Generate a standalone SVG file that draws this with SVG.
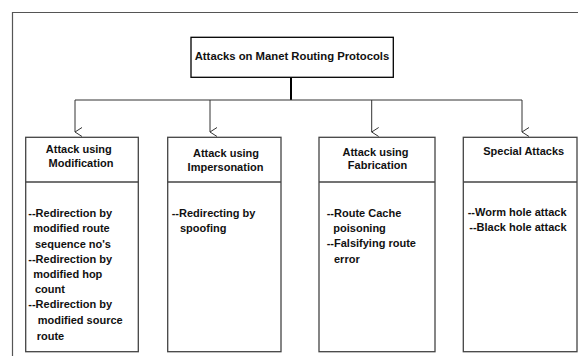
<svg xmlns="http://www.w3.org/2000/svg" width="578" height="356" viewBox="0 0 578 356">
<defs>
<style>
.frame{fill:none;stroke:#555;stroke-width:1.2}
.box{fill:#fff;stroke:#444;stroke-width:1.3}
.div{stroke:#444;stroke-width:1.3}
.conn{fill:none;stroke:#333;stroke-width:1}
.trunk{fill:none;stroke:#000;stroke-width:2}
.t{font-family:"Liberation Sans",Arial,sans-serif;font-weight:bold;font-size:11px;fill:#111}
.c{text-anchor:middle}
</style>
<marker id="arr" viewBox="0 0 10 10" refX="5" refY="9" markerWidth="10" markerHeight="10" markerUnits="userSpaceOnUse" orient="auto-start-reverse">
<path d="M0.5,2 L5,9 L9.5,2" fill="none" stroke="#333" stroke-width="1"/>
</marker>
</defs>
<rect width="578" height="356" fill="#fff"/>
<path class="frame" d="M12.5,356 V12.5 H578"/>

<g id="connectors">
<path class="trunk" d="M291,77.5 V100"/>
<path class="conn" d="M75,100 H522"/>
<path class="conn" d="M75,100 V132" marker-end="url(#arr)"/>
<path class="conn" d="M210,100 V132" marker-end="url(#arr)"/>
<path class="conn" d="M371.7,100 V132" marker-end="url(#arr)"/>
<path class="conn" d="M522,100 V132" marker-end="url(#arr)"/>
</g>

<g id="root">
<rect x="191" y="37.3" width="202.3" height="40" fill="#fff" stroke="#000" stroke-width="1.3"/>
<text class="t c" x="292" y="60" style="font-size:11.3px">Attacks on Manet Routing Protocols</text>
</g>

<g id="modification">
<rect class="box" x="25.7" y="137.3" width="112.6" height="214.4"/>
<line class="div" x1="25.7" y1="182" x2="138.3" y2="182"/>
<text class="t c" x="78.8" y="152.7">Attack using</text>
<text class="t c" x="81" y="167.3">Modification</text>
<text class="t" x="28.3" y="217.3">--Redirection by</text>
<text class="t" x="33.3" y="232.3">modified route</text>
<text class="t" x="35" y="247.5">sequence no's</text>
<text class="t" x="28.3" y="262.5">--Redirection by</text>
<text class="t" x="33.3" y="277.7">modified hop</text>
<text class="t" x="35" y="293.2">count</text>
<text class="t" x="28.3" y="308.4">--Redirection by</text>
<text class="t" x="37.7" y="324">modified source</text>
<text class="t" x="36.7" y="339.5">route</text>
</g>

<g id="impersonation">
<rect class="box" x="167.7" y="137.3" width="113.3" height="214.4"/>
<line class="div" x1="167.7" y1="182" x2="281" y2="182"/>
<text class="t c" x="226" y="156.7">Attack using</text>
<text class="t c" x="225.5" y="170.7">Impersonation</text>
<text class="t" x="171.7" y="217.3">--Redirecting by</text>
<text class="t" x="180" y="232.3">spoofing</text>
</g>

<g id="fabrication">
<rect class="box" x="319" y="137.3" width="116" height="214.4"/>
<line class="div" x1="319" y1="182" x2="435" y2="182"/>
<text class="t c" x="375.5" y="156">Attack using</text>
<text class="t c" x="377.5" y="169.3">Fabrication</text>
<text class="t" x="326.7" y="216.7">--Route Cache</text>
<text class="t" x="333.3" y="231.7">poisoning</text>
<text class="t" x="326.7" y="247.3">--Falsifying route</text>
<text class="t" x="334" y="262.7">error</text>
</g>

<g id="special">
<rect class="box" x="463.3" y="137.3" width="113.7" height="214.4"/>
<line class="div" x1="463.3" y1="182" x2="577" y2="182"/>
<text class="t c" x="523.7" y="155">Special Attacks</text>
<text class="t" x="467.7" y="216">--Worm hole attack</text>
<text class="t" x="469.3" y="230.7">--Black hole attack</text>
</g>
</svg>
